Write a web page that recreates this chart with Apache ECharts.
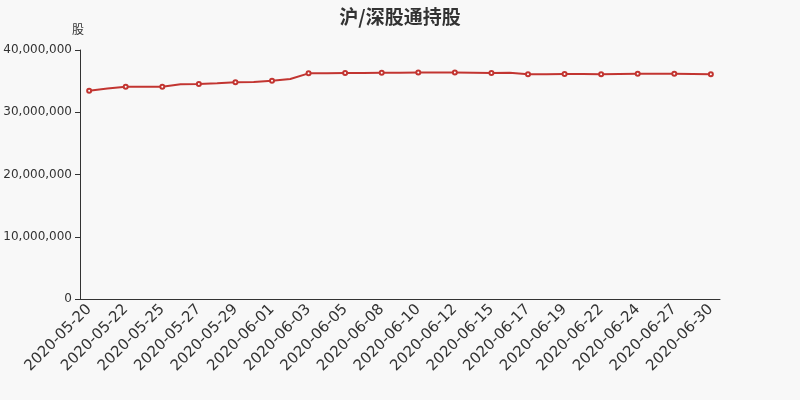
<!DOCTYPE html>
<html>
<head>
<meta charset="utf-8">
<script src="https://cdn.jsdelivr.net/npm/echarts@6/dist/echarts.min.js"></script>
<style>
html,body{margin:0;padding:0;background:#f8f8f8;}
#c{width:800px;height:400px;}
</style>
</head>
<body>
<div id="c"></div>
<script>
var dates = ['2020-05-20','2020-05-21','2020-05-22','2020-05-23','2020-05-25','2020-05-26','2020-05-27','2020-05-28','2020-05-29','2020-05-30','2020-06-01','2020-06-02','2020-06-03','2020-06-04','2020-06-05','2020-06-06','2020-06-08','2020-06-09','2020-06-10','2020-06-11','2020-06-12','2020-06-13','2020-06-15','2020-06-16','2020-06-17','2020-06-18','2020-06-19','2020-06-20','2020-06-22','2020-06-23','2020-06-24','2020-06-26','2020-06-27','2020-06-29','2020-06-30'];
var holdings = [33450000,33800000,34100000,34100000,34100000,34500000,34550000,34650000,34800000,34850000,35050000,35350000,36250000,36270000,36300000,36300000,36350000,36350000,36370000,36370000,36380000,36350000,36300000,36350000,36100000,36120000,36150000,36130000,36100000,36150000,36170000,36170000,36170000,36150000,36120000];
var yTicks = [0, 10000000, 20000000, 30000000, 40000000];

var chart = echarts.init(document.getElementById('c'), null, {renderer:'canvas'});
chart.setOption({
  backgroundColor: '#f8f8f8',
  animation: false,
  title: {
    text: '沪/深股通持股',
    left: 'center',
    top: 2,
    textStyle: {fontSize: 19, fontWeight: 'bold', color: '#333', fontFamily: 'Noto Sans CJK SC'}
  },
  grid: {left: 80, right: 80, top: 50, bottom: 101},
  xAxis: {
    type: 'category',
    data: dates,
    boundaryGap: true,
    axisLine: {lineStyle: {color: '#333'}},
    axisTick: {interval: 1},
    axisLabel: {interval: 1, rotate: 45, fontSize: 15, color: '#333', fontFamily: 'DejaVu Sans'}
  },
  yAxis: {
    type: 'value',
    name: '股',
    nameTextStyle: {fontSize: 12, color: '#333', fontFamily: 'Noto Sans CJK SC', padding: [0, 0, 0, -4]},
    nameGap: 15,
    min: yTicks[0],
    max: yTicks[yTicks.length - 1],
    interval: yTicks[1] - yTicks[0],
    axisLine: {show: true, lineStyle: {color: '#333'}},
    axisTick: {show: true},
    splitLine: {show: false},
    axisLabel: {fontSize: 12, color: '#333', fontFamily: 'DejaVu Sans',
      formatter: function(v){ return v.toLocaleString('en-US'); }}
  },
  series: [{
    type: 'line',
    data: holdings,
    symbol: 'emptyCircle',
    symbolSize: 4,
    showAllSymbol: false,
    itemStyle: {color: '#c23531'},
    lineStyle: {width: 2, color: '#c23531'}
  }]
});
</script>
</body>
</html>
